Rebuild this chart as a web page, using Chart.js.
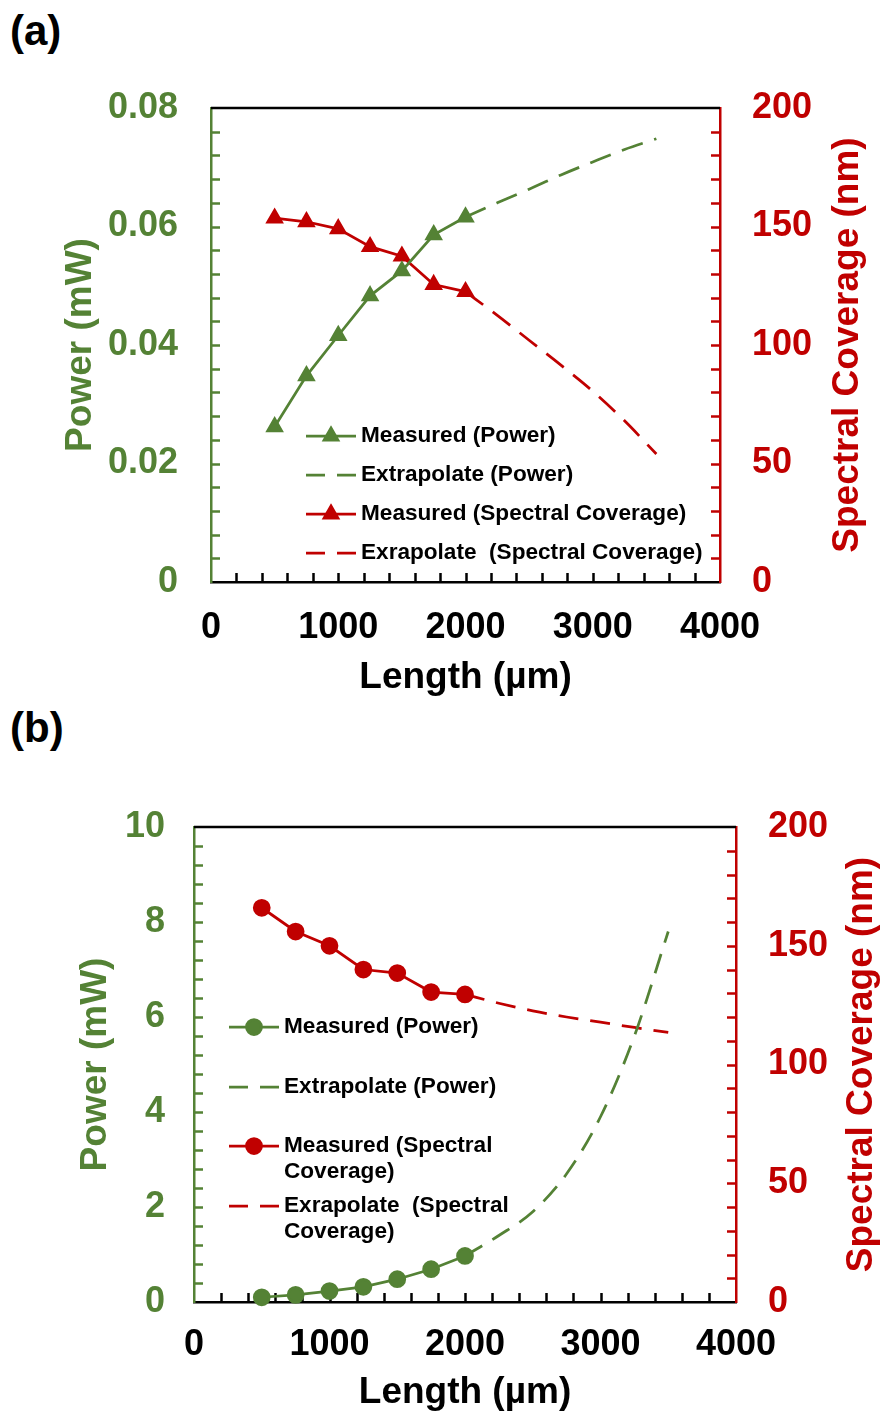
<!DOCTYPE html>
<html>
<head>
<meta charset="utf-8">
<script src="https://cdn.jsdelivr.net/npm/chart.js@4.4.1/dist/chart.umd.min.js"></script>
<style>
  html, body { margin: 0; padding: 0; background: #fff; }
  body { width: 884px; height: 1416px; position: relative; overflow: hidden;
         font-family: 'Liberation Sans', Arial, sans-serif; }
  .panel-tag { position: absolute; left: 10px; font-weight: bold; font-size: 42px;
               line-height: 1; color: #000; }
  canvas { position: absolute; left: 0; }
</style>
</head>
<body>
<div class="panel-tag" style="top:10px">(a)</div>
<canvas id="chartA" width="884" height="700" style="top:0"></canvas>
<div class="panel-tag" style="top:707px">(b)</div>
<canvas id="chartB" width="884" height="716" style="top:700px"></canvas>

<script>
// ---- data ----
const lengthsMeasured = [500, 750, 1000, 1250, 1500, 1750, 2000];   // µm
const lengthsExtrap   = [2000, 2250, 2500, 2750, 3000, 3250, 3500]; // µm

// panel (a)
const powerMeasuredA    = [0.0262, 0.0348, 0.0416, 0.0483, 0.0525, 0.0586, 0.0616]; // mW
const powerExtrapA      = [0.0616, 0.0640, 0.0663, 0.0687, 0.0709, 0.0730, 0.0748]; // mW
const coverageMeasuredA = [153.5, 152, 149, 141.5, 137.5, 125.5, 122.5];            // nm
const coverageExtrapA   = [122.5, 112.5, 102, 91.5, 80.5, 68, 54];                  // nm

// panel (b)
const powerMeasuredB    = [0.10, 0.15, 0.23, 0.32, 0.48, 0.69, 0.97];               // mW
const powerExtrapB      = [0.97, 1.4, 1.9, 2.7, 3.9, 5.6, 7.8];                     // mW
const coverageMeasuredB = [166, 156, 150, 140, 138.5, 130.5, 129.5];                // nm
const coverageExtrapB   = [129.5, 125.8, 122.6, 120, 117.8, 115.6, 113.5];          // nm

// axis ticks
const lengthTicks   = [0, 1000, 2000, 3000, 4000];
const powerTicksA   = [0, 0.02, 0.04, 0.06, 0.08];
const powerTicksB   = [0, 2, 4, 6, 8, 10];
const coverageTicks = [0, 50, 100, 150, 200];

// legend texts
const legendA = [
  ['Measured (Power)'],
  ['Extrapolate (Power)'],
  ['Measured (Spectral Coverage)'],
  ['Exrapolate  (Spectral Coverage)']
];
const legendB = [
  ['Measured (Power)'],
  ['Extrapolate (Power)'],
  ['Measured (Spectral', 'Coverage)'],
  ['Exrapolate  (Spectral', 'Coverage)']
];

const xTitle = 'Length (µm)';
const powerTitle = 'Power (mW)';
const coverageTitle = 'Spectral Coverage (nm)';

// ---- styling ----
const GREEN = '#548235';
const RED = '#C00000';
const FONT = "'Liberation Sans', Arial, sans-serif";
Chart.defaults.font.family = FONT;
Chart.defaults.font.weight = 'bold';

const pts = (xs, ys) => xs.map((x, i) => ({ x, y: ys[i] }));

// inward minor ticks, top frame line
const framePlugin = {
  id: 'frame',
  beforeDatasetsDraw(chart, args, o) {
    const { ctx, chartArea: a } = chart;
    ctx.save();
    ctx.lineCap = 'butt';
    ctx.lineWidth = o.lineWidth;
    ctx.strokeStyle = '#000';
    ctx.beginPath();
    ctx.moveTo(a.left, a.top);
    ctx.lineTo(a.right, a.top);
    ctx.stroke();
    for (const t of o.marks) {
      const s = chart.scales[t.scale];
      const n = Math.round((s.max - s.min) / t.step);
      ctx.strokeStyle = t.color;
      ctx.beginPath();
      for (let i = 1; i < n; i++) {
        const p = Math.round(s.getPixelForValue(s.min + i * t.step)) + 0.5;
        if (s.isHorizontal()) {
          ctx.moveTo(p, a.bottom); ctx.lineTo(p, a.bottom - o.len);
        } else if (s.position === 'left') {
          ctx.moveTo(a.left, p); ctx.lineTo(a.left + o.len, p);
        } else {
          ctx.moveTo(a.right, p); ctx.lineTo(a.right - o.len, p);
        }
      }
      ctx.stroke();
    }
    ctx.restore();
  }
};

// right-hand axis title, read bottom-to-top
const rightTitlePlugin = {
  id: 'rightTitle',
  afterDraw(chart, args, o) {
    const { ctx, chartArea: a } = chart;
    ctx.save();
    ctx.translate(o.x, (a.top + a.bottom) / 2);
    ctx.rotate(-Math.PI / 2);
    ctx.font = `bold ${o.size}px ${FONT}`;
    ctx.fillStyle = o.color;
    ctx.textAlign = 'center';
    ctx.textBaseline = 'middle';
    ctx.fillText(o.text, 0, 0);
    ctx.restore();
  }
};

// legend drawn inside the plot area
const insideLegendPlugin = {
  id: 'insideLegend',
  afterDatasetsDraw(chart, args, o) {
    const ctx = chart.ctx;
    ctx.save();
    chart.data.datasets.forEach((ds, i) => {
      const y = o.rows[i];
      ctx.lineWidth = ds.borderWidth;
      ctx.strokeStyle = ds.borderColor;
      ctx.setLineDash(ds.borderDash ? o.dash : []);
      ctx.beginPath();
      ctx.moveTo(o.x0, y);
      ctx.lineTo(o.x1, y);
      ctx.stroke();
      ctx.setLineDash([]);
      if (ds.pointRadius > 0) {
        ctx.fillStyle = ds.pointBackgroundColor;
        ctx.strokeStyle = ds.pointBorderColor;
        Chart.helpers.drawPoint(ctx, {
          pointStyle: ds.pointStyle, radius: ds.pointRadius, rotation: 0, borderWidth: 1
        }, (o.x0 + o.x1) / 2, y);
      }
      ctx.font = `bold ${o.size}px ${FONT}`;
      ctx.fillStyle = '#000';
      ctx.textAlign = 'left';
      ctx.textBaseline = 'middle';
      o.labels[i].forEach((line, k) => ctx.fillText(line, o.tx, y + k * o.lineGap));
    });
    ctx.restore();
  }
};

function lineSet(label, xs, ys, color, axis, opts) {
  return Object.assign({
    label, data: pts(xs, ys), yAxisID: axis,
    borderColor: color, backgroundColor: color,
    pointBackgroundColor: color, pointBorderColor: color,
    borderWidth: 2.75, clip: 12, fill: false
  }, opts);
}

function buildChart(id, cfg) {
  const tickFont = { size: 36, weight: 'bold' };
  const titleFont = { size: 37, weight: 'bold' };
  const fixedTicks = list => (axis) => { axis.ticks = list.map(v => ({ value: v })); };
  return new Chart(document.getElementById(id), {
    type: 'line',
    data: {
      datasets: [
        lineSet(cfg.legend[0].join(' '), lengthsMeasured, cfg.powerMeasured, GREEN, 'yPower',
          { pointStyle: cfg.marker, pointRadius: cfg.markerRadius }),
        lineSet(cfg.legend[1].join(' '), lengthsExtrap, cfg.powerExtrap, GREEN, 'yPower',
          { pointRadius: 0, borderDash: cfg.dash, cubicInterpolationMode: 'monotone' }),
        lineSet(cfg.legend[2].join(' '), lengthsMeasured, cfg.coverageMeasured, RED, 'yCoverage',
          { pointStyle: cfg.marker, pointRadius: cfg.markerRadius }),
        lineSet(cfg.legend[3].join(' '), lengthsExtrap, cfg.coverageExtrap, RED, 'yCoverage',
          { pointRadius: 0, borderDash: cfg.dash, cubicInterpolationMode: 'monotone' })
      ]
    },
    options: {
      responsive: false,
      animation: false,
      devicePixelRatio: 1,
      layout: { padding: { top: cfg.area.top, left: 0, right: 0, bottom: 0 } },
      plugins: {
        legend: { display: false },
        tooltip: { enabled: false },
        frame: {
          lineWidth: 2.5, len: 9,
          marks: [
            { scale: 'x', step: 200, color: '#000' },
            { scale: 'yPower', step: cfg.powerMinor, color: GREEN },
            { scale: 'yCoverage', step: 10, color: RED }
          ]
        },
        rightTitle: { text: coverageTitle, color: RED, size: 37, x: cfg.rightTitleX },
        insideLegend: Object.assign({ labels: cfg.legend, size: 22.6, dash: [19, 12] }, cfg.legendPos)
      },
      scales: {
        x: {
          type: 'linear', position: 'bottom', min: 0, max: 4000,
          afterBuildTicks: fixedTicks(lengthTicks),
          ticks: { color: '#000', font: tickFont, padding: cfg.xTickPad, maxRotation: 0,
                   autoSkip: false, callback: v => String(v) },
          grid: { display: false, drawTicks: false },
          border: { display: true, color: '#000', width: 2.5 },
          title: { display: true, text: xTitle, color: '#000', font: titleFont,
                   padding: { top: 0, bottom: cfg.xTitlePad } },
          afterFit: s => { s.height = cfg.canvasH - cfg.area.bottom; }
        },
        yPower: {
          type: 'linear', position: 'left', min: 0, max: cfg.powerMax,
          afterBuildTicks: fixedTicks(cfg.powerTicks),
          ticks: { color: GREEN, font: tickFont, padding: cfg.leftTickPad,
                   callback: cfg.powerFormat },
          grid: { display: false, drawTicks: false },
          border: { display: true, color: GREEN, width: 2.5 },
          title: { display: true, text: powerTitle, color: GREEN, font: titleFont,
                   padding: { top: cfg.leftTitlePad, bottom: 0 } },
          afterFit: s => { s.width = cfg.area.left; }
        },
        yCoverage: {
          type: 'linear', position: 'right', min: 0, max: 200,
          afterBuildTicks: fixedTicks(coverageTicks),
          ticks: { color: RED, font: tickFont, padding: 32, callback: v => String(v) },
          grid: { display: false, drawTicks: false },
          border: { display: true, color: RED, width: 2.5 },
          title: { display: false },
          afterFit: s => { s.width = 884 - cfg.area.right; }
        }
      }
    },
    plugins: [framePlugin, rightTitlePlugin, insideLegendPlugin]
  });
}

// (a) power on a 0–0.08 mW scale, triangle markers
buildChart('chartA', {
  canvasH: 700,
  area: { left: 211, right: 720, top: 108, bottom: 582 },
  powerMeasured: powerMeasuredA, powerExtrap: powerExtrapA,
  coverageMeasured: coverageMeasuredA, coverageExtrap: coverageExtrapA,
  powerMax: 0.08, powerTicks: powerTicksA, powerMinor: 0.004,
  powerFormat: v => (v === 0 ? '0' : v.toFixed(2)),
  marker: 'triangle', markerRadius: 8, dash: [22, 12],
  xTickPad: 24, xTitlePad: 0, leftTickPad: 33, leftTitlePad: 59, rightTitleX: 848,
  legend: legendA,
  legendPos: { x0: 306, x1: 356, tx: 361, rows: [436, 475, 514, 553], lineGap: 26 }
});

// (b) power on a 0–10 mW scale, circle markers
buildChart('chartB', {
  canvasH: 716,
  area: { left: 194, right: 736, top: 127, bottom: 602 },
  powerMeasured: powerMeasuredB, powerExtrap: powerExtrapB,
  coverageMeasured: coverageMeasuredB, coverageExtrap: coverageExtrapB,
  powerMax: 10, powerTicks: powerTicksB, powerMinor: 0.4,
  powerFormat: v => String(v),
  marker: 'circle', markerRadius: 7.5, dash: [20, 12],
  xTickPad: 21, xTitlePad: 1, leftTickPad: 29, leftTitlePad: 74, rightTitleX: 862,
  legend: legendB,
  legendPos: { x0: 229, x1: 279, tx: 284, rows: [327, 387, 446, 506], lineGap: 26 }
});
</script>
</body>
</html>
